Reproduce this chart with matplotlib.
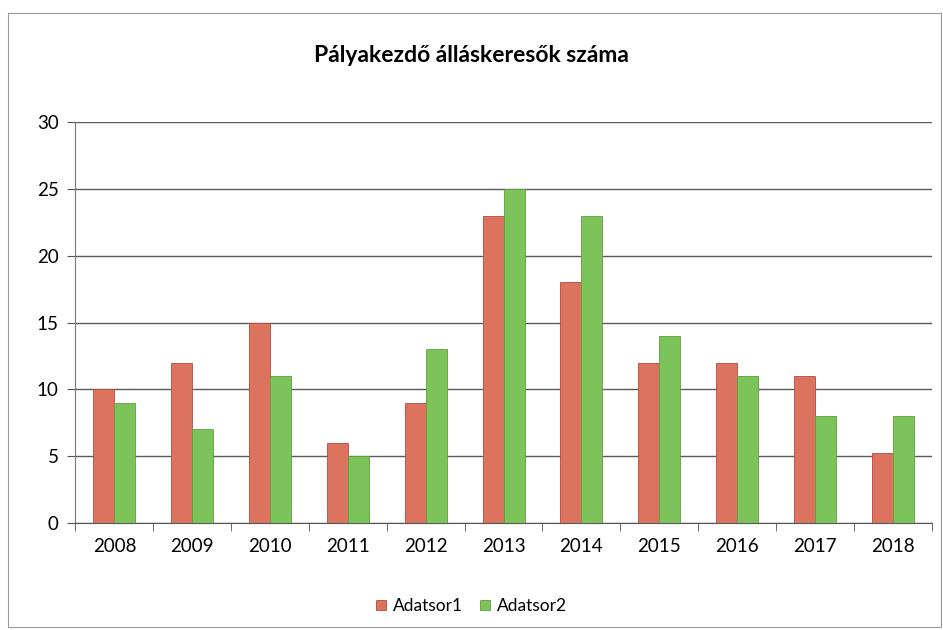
import matplotlib.pyplot as plt
import numpy as np
from matplotlib.patches import Rectangle

years = ["2008", "2009", "2010", "2011", "2012", "2013", "2014", "2015", "2016", "2017", "2018"]
adatsor1 = [10, 12, 15, 6, 9, 23, 18, 12, 12, 11, 5.2]
adatsor2 = [9, 7, 11, 5, 13, 25, 23, 14, 11, 8, 8]
y_ticks = [0, 5, 10, 15, 20, 25, 30]

plt.rcParams['font.family'] = ['Lato', 'DejaVu Sans']

fig = plt.figure(figsize=(9.43, 6.30), dpi=100)
# outer chart frame
fig.patches.append(Rectangle((0.008, 0.005), 0.99, 0.975, transform=fig.transFigure,
                             fill=False, edgecolor='#9a9a9a', linewidth=0.8))
ax = fig.add_axes([0.080, 0.170, 0.908, 0.636])

x = np.arange(len(years))
w = 0.27
ax.bar(x - w / 2, adatsor1, w, color='#dc735e', edgecolor='#b84a3c', linewidth=0.6,
       label='Adatsor1', zorder=3)
ax.bar(x + w / 2, adatsor2, w, color='#7cc35a', edgecolor='#5aa33e', linewidth=0.6,
       label='Adatsor2', zorder=3)

ax.set_ylim(0, 30)
ax.set_xlim(-0.5, len(years) - 0.5)
ax.set_yticks(y_ticks)
ax.set_yticklabels([str(t) for t in y_ticks], fontsize=13.5)
ax.set_xticks(x)
ax.set_xticklabels(years, fontsize=13.5)
ax.tick_params(axis='x', length=0, pad=11)
ax.set_xticks(np.arange(-0.5, len(years)), minor=True)
ax.tick_params(axis='x', which='minor', length=6, direction='out', color='#555555')
ax.tick_params(axis='y', length=6, direction='out', color='#555555', pad=6)

ax.grid(axis='y', color='#5a5a5a', linewidth=1.0, zorder=0)
for s in ['top', 'right']:
    ax.spines[s].set_visible(False)
ax.spines['left'].set_color('#777777')
ax.spines['bottom'].set_color('#555555')

fig.text(0.5, 0.912, 'Pályakezdő álláskeresők száma', ha='center', va='center',
         fontsize=16.5, fontweight='bold')
fig.legend(loc='center', bbox_to_anchor=(0.5, 0.038), ncol=2, frameon=False,
           fontsize=12.5, handlelength=0.55, handleheight=0.55, handletextpad=0.4,
           columnspacing=1.0)

fig.savefig('out.png', dpi=100)
